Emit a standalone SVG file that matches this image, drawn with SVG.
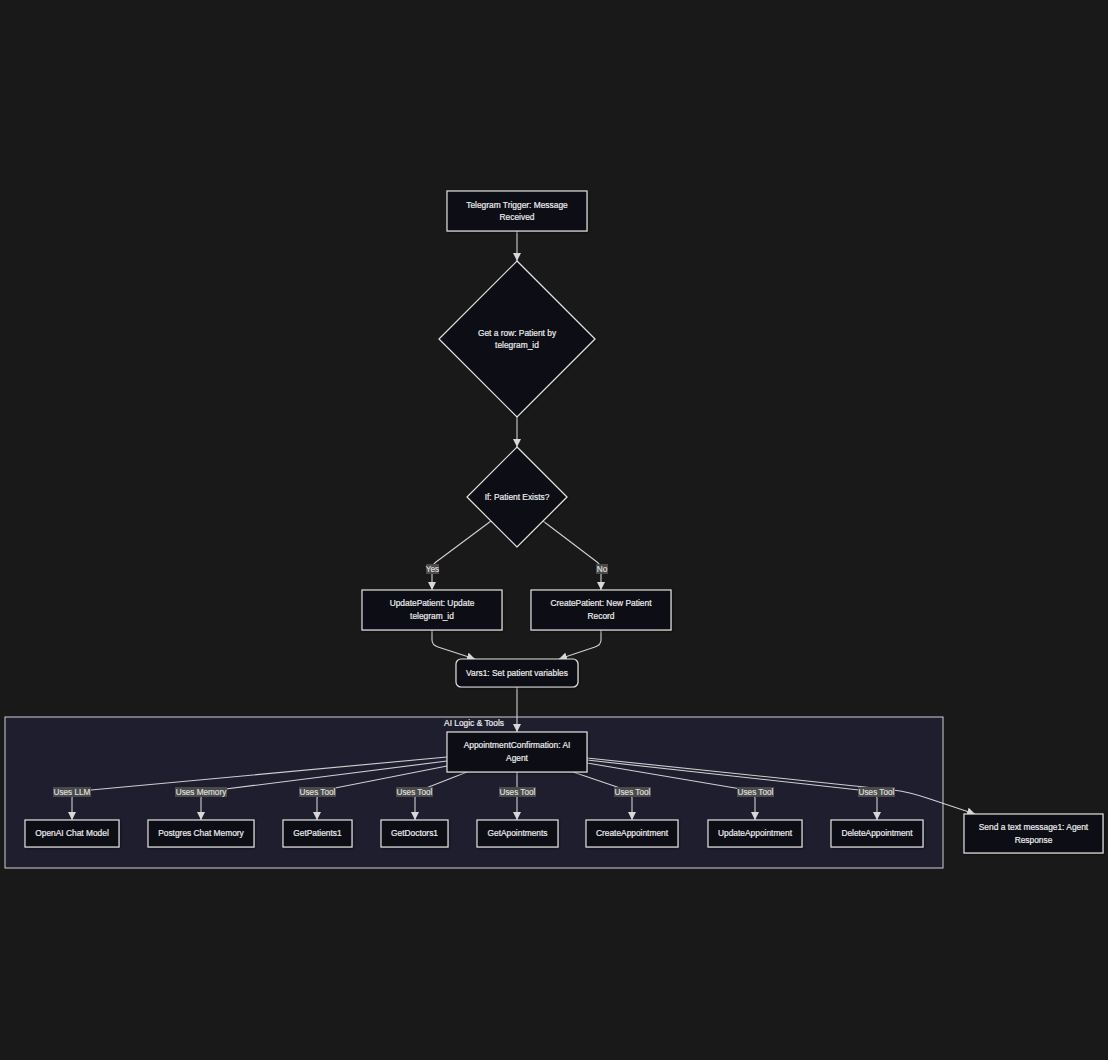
<svg xmlns="http://www.w3.org/2000/svg" width="1108" height="1060" viewBox="0 0 1108 1060">
<style>
.bg{fill:#19191a}
.node{fill:#0c0c13;stroke:#e2e2e2;stroke-width:1.2}
.cluster{fill:#1e1e2f;stroke:#d0d0d0;stroke-width:1}
.t{font-family:"Liberation Sans",Arial,sans-serif;font-size:8.4px;fill:#ececec;stroke:#ececec;stroke-width:0.2;text-anchor:middle}
.edge{fill:none;stroke:#cfcfcf;stroke-width:1.1}
.lbg{fill:#4a4a4a}
.lt{font-family:"Liberation Sans",Arial,sans-serif;font-size:8.2px;fill:#e0e0e0;stroke:#e0e0e0;stroke-width:0.15;text-anchor:middle}
</style>
<defs>
<marker id="arr" viewBox="0 0 10 10" refX="10" refY="5" markerUnits="userSpaceOnUse" markerWidth="8" markerHeight="8" orient="auto">
<path d="M0,0 L10,5 L0,10 z" fill="#d8d8d8"/>
</marker>
<filter id="sh" x="-10%" y="-10%" width="120%" height="130%">
<feDropShadow dx="1" dy="1" stdDeviation="1.2" flood-color="#000" flood-opacity="0.5"/>
</filter>
</defs>
<rect class="bg" x="0" y="0" width="1108" height="1060"/>

<g id="cluster-ai">
<rect class="cluster" x="5" y="717" width="938" height="151"/>
<text class="t" x="474" y="726">AI Logic &amp; Tools</text>
</g>

<g id="connectors">
<path class="edge" d="M517,231 L517,261" marker-end="url(#arr)"/>
<path class="edge" d="M517,417 L517,447" marker-end="url(#arr)"/>
<path class="edge" d="M491,521 L436,562 Q432,565 432,570 L432,590" marker-end="url(#arr)"/>
<path class="edge" d="M543,521 L597,562 Q601,565 601,570 L601,590" marker-end="url(#arr)"/>
<path class="edge" d="M432,630 L432,640 Q432,645 438,647 L475,659" marker-end="url(#arr)"/>
<path class="edge" d="M601,630 L601,640 Q601,645 595,647 L559,659" marker-end="url(#arr)"/>
<path class="edge" d="M517,687 L517,732" marker-end="url(#arr)"/>
<path class="edge" d="M447,757 L80,791 Q72,792 72,798 L72,820" marker-end="url(#arr)"/>
<path class="edge" d="M447,761 L210,791 Q201,792 201,798 L201,820" marker-end="url(#arr)"/>
<path class="edge" d="M447,766 L325,790 Q317,792 317,798 L317,820" marker-end="url(#arr)"/>
<path class="edge" d="M467,772 L421,790 Q415,792 415,798 L415,820" marker-end="url(#arr)"/>
<path class="edge" d="M517,772 L517,820" marker-end="url(#arr)"/>
<path class="edge" d="M573,772 L626,790 Q632,792 632,798 L632,820" marker-end="url(#arr)"/>
<path class="edge" d="M587,763 L747,790 Q755,792 755,798 L755,820" marker-end="url(#arr)"/>
<path class="edge" d="M587,760 L868,791 Q877,792 877,798 L877,820" marker-end="url(#arr)"/>
<path class="edge" d="M587,758 L893,790 Q910,792 930,799 L975,814" marker-end="url(#arr)"/>
</g>

<g id="edge-labels">
<rect class="lbg" x="426" y="564" width="13" height="10"/><text class="lt" x="432.5" y="572">Yes</text>
<rect class="lbg" x="596" y="564" width="12" height="10"/><text class="lt" x="602" y="572">No</text>
<rect class="lbg" x="53" y="787" width="38" height="10"/><text class="lt" x="72" y="795">Uses LLM</text>
<rect class="lbg" x="175" y="787" width="52" height="10"/><text class="lt" x="201" y="795">Uses Memory</text>
<rect class="lbg" x="299" y="787" width="37" height="10"/><text class="lt" x="317.5" y="795">Uses Tool</text>
<rect class="lbg" x="396" y="787" width="37" height="10"/><text class="lt" x="414.5" y="795">Uses Tool</text>
<rect class="lbg" x="499" y="787" width="37" height="10"/><text class="lt" x="517.5" y="795">Uses Tool</text>
<rect class="lbg" x="614" y="787" width="37" height="10"/><text class="lt" x="632.5" y="795">Uses Tool</text>
<rect class="lbg" x="737" y="787" width="37" height="10"/><text class="lt" x="755.5" y="795">Uses Tool</text>
<rect class="lbg" x="858" y="787" width="37" height="10"/><text class="lt" x="876.5" y="795">Uses Tool</text>
</g>

<g id="telegram-trigger">
<rect class="node" x="447" y="191" width="140" height="40" filter="url(#sh)"/>
<text class="t" x="517" y="208">Telegram Trigger: Message</text>
<text class="t" x="517" y="220">Received</text>
</g>
<g id="get-row">
<polygon class="node" points="517,261 595,339 517,417 439,339" filter="url(#sh)"/>
<text class="t" x="517" y="336">Get a row: Patient by</text>
<text class="t" x="517" y="348">telegram_id</text>
</g>
<g id="if-exists">
<polygon class="node" points="517,447 567,497 517,547 467,497" filter="url(#sh)"/>
<text class="t" x="517" y="500">If: Patient Exists?</text>
</g>
<g id="update-patient">
<rect class="node" x="362" y="590" width="140" height="40" filter="url(#sh)"/>
<text class="t" x="432" y="606">UpdatePatient: Update</text>
<text class="t" x="432" y="619">telegram_id</text>
</g>
<g id="create-patient">
<rect class="node" x="531" y="590" width="140" height="40" filter="url(#sh)"/>
<text class="t" x="601" y="606">CreatePatient: New Patient</text>
<text class="t" x="601" y="619">Record</text>
</g>
<g id="vars1">
<rect class="node" x="456" y="659" width="122" height="28" rx="5" ry="5" filter="url(#sh)"/>
<text class="t" x="517" y="676">Vars1: Set patient variables</text>
</g>
<g id="agent">
<rect class="node" x="447" y="732" width="140" height="40" filter="url(#sh)"/>
<text class="t" x="517" y="748">AppointmentConfirmation: AI</text>
<text class="t" x="517" y="761">Agent</text>
</g>
<g id="openai">
<rect class="node" x="25" y="820" width="94" height="27" filter="url(#sh)"/>
<text class="t" x="72" y="836">OpenAI Chat Model</text>
</g>
<g id="postgres">
<rect class="node" x="148" y="820" width="106" height="27" filter="url(#sh)"/>
<text class="t" x="201" y="836">Postgres Chat Memory</text>
</g>
<g id="getpatients">
<rect class="node" x="283" y="820" width="69" height="27" filter="url(#sh)"/>
<text class="t" x="317.5" y="836">GetPatients1</text>
</g>
<g id="getdoctors">
<rect class="node" x="381" y="820" width="67" height="27" filter="url(#sh)"/>
<text class="t" x="414.5" y="836">GetDoctors1</text>
</g>
<g id="getapointments">
<rect class="node" x="477" y="820" width="81" height="27" filter="url(#sh)"/>
<text class="t" x="517.5" y="836">GetApointments</text>
</g>
<g id="createappointment">
<rect class="node" x="586" y="820" width="92" height="27" filter="url(#sh)"/>
<text class="t" x="632" y="836">CreateAppointment</text>
</g>
<g id="updateappointment">
<rect class="node" x="708" y="820" width="94" height="27" filter="url(#sh)"/>
<text class="t" x="755" y="836">UpdateAppointment</text>
</g>
<g id="deleteappointment">
<rect class="node" x="831" y="820" width="92" height="27" filter="url(#sh)"/>
<text class="t" x="877" y="836">DeleteAppointment</text>
</g>
<g id="send-message">
<rect class="node" x="964" y="814" width="139" height="39" filter="url(#sh)"/>
<text class="t" x="1033.5" y="830">Send a text message1: Agent</text>
<text class="t" x="1033.5" y="843">Response</text>
</g>
</svg>
